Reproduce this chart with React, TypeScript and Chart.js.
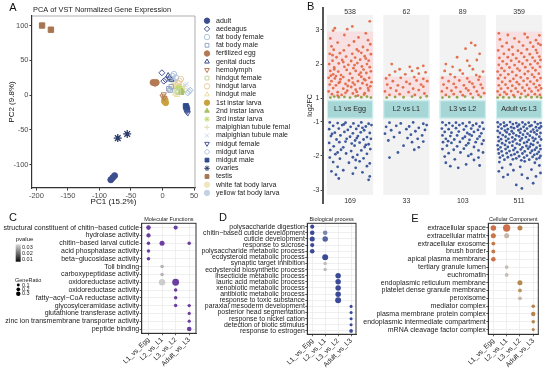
import React, { useEffect, useRef } from 'react';
import { Chart, registerables } from 'chart.js';
import { drawPoint } from 'chart.js/helpers';

Chart.register(...registerables);

const FONT = "'Liberation Sans', Arial, Helvetica, sans-serif";

/* ---------------- Panel A data ---------------- */
const PCA_GROUPS = [
  'adult', 'aedeagus', 'fat body female', 'fat body male', 'fertilized egg', 'genital ducts',
  'hemolymph', 'hindgut female', 'hindgut larva', 'hindgut male', '1st instar larva',
  '2nd instar larva', '3rd instar larva', 'malpighian tubule female', 'malpighian tubule male',
  'midgut female', 'midgut larva', 'midgut male', 'ovaries', 'testis', 'white fat body larva',
  'yellow fat body larva',
];
const PCA_POINTS: number[][][] = [
  [[-82, -122], [-79, -119], [-76, -116]],
  [[-1, 32], [5, 22], [2, 20]],
  [[16, 27], [21, 25], [18, 30]],
  [[10, 9], [14, 12], [12, 7]],
  [[-15, 18], [-12, 17], [-10, 18]],
  [[11, 25], [14, 22], [9, 28]],
  [[2, 1], [3, -4], [0, -2]],
  [[22, 6], [25, 4]],
  [[27, 20], [29, 23], [25, 17]],
  [[20, 2], [23, 0]],
  [[3, -9], [5, -11], [4, -7]],
  [[28, 4], [31, 6], [30, 3]],
  [[24, 10], [27, 12]],
  [[33, 12], [35, 9]],
  [[36, 14], [38, 16]],
  [[40, -26], [38, -24]],
  [[42, 5], [40, 3], [44, 7]],
  [[37, -16], [39, -21], [38, -18]],
  [[-71, -62], [-56, -56]],
  [[-191, 100], [-177, 94]],
  [[18, 15], [20, 13]],
  [[16, 22], [19, 19]],
];
const PCA_X_TICKS = [-200, -150, -100, -50, 0, 50];
const PCA_Y_TICKS = [-100, -50, 0, 50, 100];

const PCA_STYLE = [
  { s: 'circle', c: '#3D4E8E', f: true, r: 0, z: 3 },
  { s: 'rectRot', c: '#44528C', f: false, r: 0, z: 3 },
  { s: 'circle', c: '#AFC3DC', f: false, r: 0, z: 2.8 },
  { s: 'rect', c: '#93A6C4', f: false, r: 0, z: 3.2 },
  { s: 'circle', c: '#B27A55', f: true, r: 0, z: 3 },
  { s: 'triangle', c: '#3A4A88', f: false, r: 0, z: 3 },
  { s: 'triangle', c: '#B97B52', f: false, r: 180, z: 3 },
  { s: 'rect', c: '#C5D69C', f: false, r: 0, z: 3.2 },
  { s: 'circle', c: '#EDCB98', f: false, r: 0, z: 2.8 },
  { s: 'triangle', c: '#EEDDA0', f: false, r: 0, z: 3 },
  { s: 'circle', c: '#C9A240', f: true, r: 0, z: 3 },
  { s: 'triangle', c: '#A9C163', f: true, r: 0, z: 3 },
  { s: 'star', c: '#BFDB6E', f: true, r: 0, z: 3 },
  { s: 'cross', c: '#E0DCB4', f: false, r: 0, z: 3 },
  { s: 'crossRot', c: '#C7D6E6', f: false, r: 0, z: 3 },
  { s: 'triangle', c: '#4B5B9B', f: false, r: 180, z: 3 },
  { s: 'rectRot', c: '#A9C1E0', f: false, r: 0, z: 3 },
  { s: 'rect', c: '#2F4B8D', f: true, r: 0, z: 3.6 },
  { s: 'star', c: '#2B3B6B', f: false, r: 0, z: 4 },
  { s: 'rect', c: '#A87552', f: true, r: 0, z: 3.8 },
  { s: 'circle', c: '#EFE6BE', f: true, r: 0, z: 2.8 },
  { s: 'circle', c: '#C3D1E4', f: true, r: 0, z: 2.8 },
];

/* ---------------- Panel B data ---------------- */
const COMPARISONS = ['L1 vs Egg', 'L2 vs L1', 'L3 vs L2', 'Adult vs L3'];
const UP_COUNTS = [538, 62, 89, 359];
const DOWN_COUNTS = [169, 33, 103, 511];
const UP_SPREAD_TOP = [2.95, 1.63, 1.65, 2.95];
const FC_TICKS = [3, 2, 1, -1, -2, -3];

// pairs: jitter, log2FC
const L1_UP = [
  -0.35, 1.02, -0.28, 1.05, -0.2, 1.03, -0.1, 1.04, 0.0, 1.02, 0.1, 1.06, 0.2, 1.03, 0.3, 1.05, 0.37, 1.02,
  -0.32, 1.12, -0.15, 1.1, 0.05, 1.14, 0.25, 1.11, -0.38, 1.2, -0.22, 1.18, -0.05, 1.22, 0.12, 1.19, 0.33, 1.23,
  -0.3, 1.3, -0.12, 1.28, 0.02, 1.33, 0.18, 1.29, 0.36, 1.35, -0.36, 1.4, -0.25, 1.38, -0.08, 1.42, 0.08, 1.4,
  0.22, 1.44, 0.3, 1.39, -0.33, 1.5, -0.18, 1.48, -0.02, 1.52, 0.14, 1.5, 0.27, 1.53, 0.38, 1.47, -0.38, 1.6,
  -0.27, 1.58, -0.12, 1.62, 0.04, 1.59, 0.2, 1.63, 0.34, 1.6, -0.3, 1.7, -0.16, 1.68, 0.0, 1.72, 0.16, 1.69,
  0.29, 1.74, -0.35, 1.8, -0.21, 1.78, -0.06, 1.83, 0.1, 1.8, 0.24, 1.84, 0.37, 1.79, -0.28, 1.9, -0.1, 1.92,
  0.06, 1.88, 0.21, 1.93, 0.35, 1.91, -0.37, 2.0, -0.2, 2.02, -0.03, 1.98, 0.13, 2.03, 0.3, 2.0, -0.31, 2.1,
  -0.14, 2.12, 0.02, 2.09, 0.18, 2.13, 0.33, 2.1, -0.24, 2.2, -0.07, 2.22, 0.09, 2.19, 0.26, 2.23, -0.36, 2.3,
  -0.18, 2.32, 0.04, 2.3, 0.2, 2.33, 0.37, 2.29, -0.29, 2.42, -0.11, 2.4, 0.12, 2.43, 0.31, 2.41, -0.33, 2.52,
  -0.02, 2.55, 0.23, 2.5, 0.36, 2.58, -0.22, 2.63, 0.07, 2.66, 0.32, 2.7, -0.35, 2.75, 0.15, 2.78, -0.1, 2.85,
  0.28, 2.9, -0.3, 2.98, -0.27, 3.05, -0.05, 3.02, 0.04, 3.1, 0.35, 3.25, -0.17, 1.56, 0.1, 1.25, -0.25, 1.65,
  0.26, 1.15, -0.04, 1.36, 0.19, 1.75, -0.28, 1.85, 0.08, 1.97, -0.12, 2.06, 0.28, 2.16, -0.31, 2.26, 0.15, 2.38,
  -0.22, 1.08, 0.14, 1.08, -0.08, 1.16, 0.32, 1.3, -0.2, 1.45, 0.25, 1.56, -0.34, 1.66, 0.05, 1.46,
];
const L1_DOWN = [
  -0.36, -1.02, -0.22, -1.04, -0.08, -1.03, 0.06, -1.05, 0.2, -1.02, 0.33, -1.06, -0.3, -1.12, -0.14, -1.1,
  0.01, -1.15, 0.15, -1.12, 0.28, -1.14, 0.38, -1.1, -0.37, -1.22, -0.2, -1.2, -0.04, -1.24, 0.11, -1.21,
  0.25, -1.25, -0.27, -1.32, -0.1, -1.3, 0.05, -1.34, 0.19, -1.31, 0.35, -1.33, -0.34, -1.42, -0.17, -1.4,
  0.0, -1.44, 0.14, -1.42, 0.3, -1.45, -0.24, -1.52, -0.06, -1.5, 0.09, -1.55, 0.24, -1.52, 0.37, -1.5,
  -0.37, -1.62, -0.19, -1.6, 0.03, -1.64, 0.17, -1.61, 0.33, -1.66, -0.29, -1.72, -0.12, -1.75, 0.08, -1.7,
  0.26, -1.74, -0.35, -1.83, -0.16, -1.82, 0.02, -1.86, 0.2, -1.84, 0.36, -1.8, -0.26, -1.95, -0.07, -1.93,
  0.13, -1.97, 0.3, -1.94, -0.36, -2.05, -0.18, -2.08, 0.05, -2.04, 0.24, -2.07, -0.3, -2.18, -0.02, -2.2,
  0.17, -2.16, 0.35, -2.22, -0.22, -2.32, 0.1, -2.35, 0.3, -2.3, -0.33, -2.45, -0.12, -2.42, 0.22, -2.48,
  -0.25, -2.55, 0.05, -2.52, 0.35, -2.6, -0.2, -2.66, 0.33, -2.7, -0.11, -1.08, 0.22, -1.18, -0.32, -1.36,
  0.12, -1.48, -0.08, -1.58, 0.28, -1.68, -0.22, -1.9, 0.1, -2.12,
];
const L2_UP = [
  -0.35, 1.02, -0.2, 1.04, -0.05, 1.03, 0.1, 1.05, 0.25, 1.02, 0.36, 1.06, -0.3, 1.1, -0.12, 1.12, 0.15, 1.1,
  0.32, 1.14, -0.38, 1.2, -0.18, 1.22, 0.04, 1.18, 0.22, 1.24, -0.28, 1.3, -0.06, 1.32, 0.12, 1.28, 0.3, 1.34,
  -0.34, 1.4, -0.15, 1.38, 0.06, 1.42, 0.26, 1.4, -0.24, 1.5, 0.0, 1.48, 0.18, 1.52, 0.37, 1.5, -0.36, 1.58,
  -0.1, 1.6, 0.14, 1.62, 0.3, 1.57, -0.3, 1.68, -0.02, 1.7, 0.22, 1.72, -0.2, 1.78, 0.1, 1.8, 0.34, 1.76,
  -0.12, 1.85, 0.2, 1.88, 0.3, 1.95, -0.26, 2.0, 0.06, 1.92,
];
const L2_DOWN = [
  -0.3, -1.03, -0.1, -1.05, 0.12, -1.02, 0.3, -1.06, 0.36, -1.1, -0.36, -1.15, -0.18, -1.12, 0.05, -1.14,
  0.22, -1.18, -0.27, -1.25, 0.0, -1.22, 0.16, -1.28, 0.33, -1.24, -0.38, -1.35, -0.12, -1.32, 0.08, -1.38,
  0.28, -1.4, -0.22, -1.45, 0.02, -1.48, 0.2, -1.5, -0.32, -1.55, 0.1, -1.6, 0.3, -1.58, -0.05, -1.7,
  0.22, -1.75, -0.15, -1.9, -0.3, -2.05, 0.14, -1.82,
];
const L3_UP = [
  -0.36, 1.02, -0.24, 1.04, -0.1, 1.03, 0.04, 1.05, 0.18, 1.02, 0.32, 1.04, -0.3, 1.1, -0.16, 1.12, 0.0, 1.09,
  0.14, 1.13, 0.28, 1.1, 0.38, 1.15, -0.37, 1.2, -0.2, 1.22, -0.04, 1.19, 0.1, 1.23, 0.25, 1.2, -0.28, 1.3,
  -0.12, 1.32, 0.06, 1.29, 0.2, 1.33, 0.35, 1.3, -0.34, 1.4, -0.16, 1.42, 0.02, 1.38, 0.17, 1.43, 0.32, 1.4,
  -0.25, 1.5, -0.06, 1.52, 0.12, 1.48, 0.28, 1.54, -0.36, 1.6, -0.14, 1.62, 0.08, 1.58, 0.3, 1.63, -0.22, 1.7,
  0.0, 1.72, 0.24, 1.68, -0.32, 1.8, -0.05, 1.82, 0.18, 1.85, 0.36, 1.78, -0.18, 1.92, 0.12, 1.95, -0.3, 2.0,
  0.08, 2.1, 0.25, 2.12, -0.1, 2.2, 0.3, 2.3, 0.05, 2.45, 0.15, 2.62, 0.22, 2.55,
];
const L3_DOWN = [
  -0.36, -1.02, -0.24, -1.04, -0.12, -1.03, 0.0, -1.05, 0.12, -1.02, 0.24, -1.06, 0.35, -1.03, -0.3, -1.1,
  -0.18, -1.12, -0.06, -1.1, 0.06, -1.13, 0.18, -1.11, 0.3, -1.14, -0.37, -1.2, -0.25, -1.22, -0.12, -1.19,
  0.02, -1.23, 0.15, -1.2, 0.27, -1.24, 0.37, -1.21, -0.32, -1.3, -0.2, -1.32, -0.07, -1.29, 0.08, -1.33,
  0.2, -1.3, 0.33, -1.34, -0.36, -1.4, -0.22, -1.42, -0.1, -1.4, 0.04, -1.44, 0.16, -1.41, 0.3, -1.43,
  -0.3, -1.5, -0.15, -1.52, 0.0, -1.49, 0.12, -1.53, 0.26, -1.5, 0.37, -1.55, -0.35, -1.6, -0.2, -1.62,
  -0.05, -1.59, 0.1, -1.63, 0.23, -1.6, 0.34, -1.65, -0.28, -1.7, -0.1, -1.72, 0.06, -1.69, 0.2, -1.74,
  -0.36, -1.8, -0.16, -1.82, 0.02, -1.79, 0.28, -1.84, -0.25, -1.92, -0.04, -1.9, 0.15, -1.95, 0.36, -1.9,
  -0.32, -2.02, 0.1, -2.0, 0.28, -2.05, -0.14, -2.1, 0.2, -2.12, -0.3, -2.2, 0.06, -2.25, -0.22, -2.3,
  0.3, -2.28, -0.08, -2.35, 0.12, -1.37, -0.26, -1.57,
];
const AD_UP = [
  -0.38, 1.02, -0.28, 1.03, -0.18, 1.02, -0.08, 1.04, 0.02, 1.02, 0.12, 1.05, 0.22, 1.03, 0.32, 1.04, 0.39, 1.02,
  -0.34, 1.1, -0.22, 1.12, -0.1, 1.09, 0.04, 1.13, 0.16, 1.1, 0.28, 1.12, 0.37, 1.1,
  -0.38, 1.2, -0.26, 1.18, -0.14, 1.21, -0.02, 1.19, 0.1, 1.22, 0.22, 1.2, 0.34, 1.23,
  -0.32, 1.28, -0.2, 1.3, -0.06, 1.29, 0.06, 1.31, 0.18, 1.28, 0.3, 1.32, 0.39, 1.29,
  -0.36, 1.38, -0.24, 1.4, -0.12, 1.37, 0.0, 1.41, 0.14, 1.39, 0.26, 1.42, 0.36, 1.38,
  -0.3, 1.48, -0.16, 1.5, -0.04, 1.47, 0.08, 1.51, 0.2, 1.49, 0.32, 1.52,
  -0.37, 1.58, -0.25, 1.6, -0.1, 1.57, 0.03, 1.61, 0.15, 1.58, 0.27, 1.62, 0.38, 1.59,
  -0.33, 1.68, -0.19, 1.7, -0.05, 1.67, 0.1, 1.71, 0.23, 1.69, 0.35, 1.72,
  -0.38, 1.78, -0.26, 1.8, -0.12, 1.77, 0.01, 1.81, 0.16, 1.79, 0.29, 1.82,
  -0.31, 1.88, -0.17, 1.9, -0.03, 1.87, 0.11, 1.91, 0.24, 1.89, 0.37, 1.92,
  -0.36, 1.98, -0.22, 2.0, -0.08, 1.97, 0.06, 2.01, 0.2, 1.99, 0.33, 2.02,
  -0.29, 2.08, -0.14, 2.1, 0.0, 2.07, 0.14, 2.11, 0.28, 2.09, 0.38, 2.12,
  -0.35, 2.18, -0.2, 2.2, -0.05, 2.17, 0.09, 2.21, 0.24, 2.19, 0.36, 2.22,
  -0.27, 2.3, -0.11, 2.28, 0.04, 2.32, 0.19, 2.29, 0.32, 2.33,
  -0.37, 2.4, -0.18, 2.42, -0.02, 2.39, 0.14, 2.43, 0.3, 2.41,
  -0.3, 2.52, -0.12, 2.5, 0.07, 2.54, 0.25, 2.51, 0.38, 2.56,
  -0.22, 2.62, 0.0, 2.65, 0.2, 2.63, 0.34, 2.6,
  -0.34, 2.72, -0.08, 2.75, 0.15, 2.78, 0.3, 2.7,
  -0.2, 2.85, 0.1, 2.88, -0.36, 2.9, 0.36, 2.84,
];
const AD_DOWN = [
  -0.38, -1.02, -0.27, -1.03, -0.16, -1.01, -0.05, -1.04, 0.06, -1.02, 0.17, -1.03, 0.28, -1.01, 0.38, -1.04,
  -0.33, -1.08, -0.22, -1.1, -0.11, -1.07, 0.0, -1.09, 0.11, -1.08, 0.22, -1.11, 0.33, -1.07,
  -0.37, -1.15, -0.26, -1.13, -0.14, -1.16, -0.03, -1.14, 0.08, -1.15, 0.19, -1.13, 0.3, -1.16, 0.39, -1.14,
  -0.31, -1.2, -0.2, -1.22, -0.09, -1.19, 0.03, -1.21, 0.14, -1.2, 0.25, -1.23, 0.36, -1.19,
  -0.38, -1.27, -0.25, -1.26, -0.13, -1.28, -0.01, -1.25, 0.1, -1.27, 0.21, -1.29, 0.32, -1.26,
  -0.34, -1.33, -0.22, -1.31, -0.1, -1.34, 0.02, -1.32, 0.15, -1.35, 0.27, -1.31, 0.38, -1.33,
  -0.29, -1.39, -0.17, -1.37, -0.05, -1.4, 0.07, -1.38, 0.19, -1.41, 0.31, -1.37,
  -0.37, -1.45, -0.24, -1.44, -0.12, -1.46, 0.0, -1.43, 0.12, -1.45, 0.24, -1.47, 0.36, -1.44,
  -0.32, -1.51, -0.19, -1.5, -0.07, -1.52, 0.05, -1.49, 0.17, -1.53, 0.29, -1.5, 0.39, -1.52,
  -0.36, -1.57, -0.23, -1.56, -0.11, -1.58, 0.02, -1.55, 0.14, -1.59, 0.26, -1.56,
  -0.3, -1.63, -0.17, -1.61, -0.04, -1.64, 0.09, -1.62, 0.21, -1.65, 0.33, -1.61,
  -0.38, -1.69, -0.25, -1.68, -0.12, -1.7, 0.01, -1.67, 0.13, -1.71, 0.25, -1.68, 0.37, -1.7,
  -0.33, -1.75, -0.2, -1.74, -0.07, -1.77, 0.06, -1.75, 0.19, -1.73, 0.31, -1.76,
  -0.37, -1.81, -0.24, -1.8, -0.1, -1.83, 0.03, -1.81, 0.16, -1.79, 0.28, -1.82, 0.38, -1.8,
  -0.31, -1.87, -0.17, -1.86, -0.03, -1.89, 0.1, -1.87, 0.23, -1.85, 0.35, -1.88,
  -0.36, -1.93, -0.22, -1.92, -0.08, -1.95, 0.06, -1.93, 0.2, -1.91, 0.32, -1.94,
  -0.29, -1.99, -0.14, -1.98, 0.0, -2.01, 0.14, -1.99, 0.27, -1.97, 0.38, -2.0,
  -0.34, -2.05, -0.2, -2.04, -0.05, -2.07, 0.09, -2.05, 0.24, -2.03, 0.36, -2.06,
  -0.26, -2.11, -0.11, -2.1, 0.04, -2.13, 0.18, -2.11, 0.31, -2.09,
  -0.35, -2.18, 0.1, -2.16, 0.28, -2.2, -0.15, -2.25, 0.36, -2.28, -0.3, -2.35, 0.02, -2.32, -0.1, -2.42,
  0.22, -2.4, -0.36, -2.45, 0.38, -2.5, -0.2, -2.55, 0.05, -2.55, 0.3, -2.6, -0.28, -2.62, 0.15, -2.65,
  -0.05, -2.85, 0.05, -2.95, 0.25, -2.8,
];
const B_UP = [L1_UP, L2_UP, L3_UP, AD_UP];
const B_DOWN = [L1_DOWN, L2_DOWN, L3_DOWN, AD_DOWN];

/* ---------------- Panels C/D/E data ---------------- */
const GO_COLUMNS = ['L1_vs_Egg', 'L2_vs_L1', 'L3_vs_L2', 'Adult_vs_L3'];
const MF_TERMS = [
  'structural constituent of chitin\u2212based cuticle', 'hydrolase activity', 'chitin\u2212based larval cuticle',
  'acid phosphatase activity', 'beta\u2212glucosidase activity', 'Toll binding', 'carboxypeptidase activity',
  'oxidoreductase activity', 'oxidoreductase activity', 'fatty\u2212acyl\u2212CoA reductase activity',
  'glycosylceramidase activity', 'glutathione transferase activity',
  'zinc ion transmembrane transporter activity', 'peptide binding',
];
// [row, column, GeneRatio, pvalue]
const MF_DOTS = [
  [1, 1, 0.2, 0.004], [1, 3, 0.15, 0.005], [2, 1, 0.17, 0.005], [3, 1, 0.08, 0.006], [3, 2, 0.25, 0.004],
  [3, 4, 0.08, 0.006], [4, 1, 0.08, 0.006], [5, 1, 0.08, 0.006], [6, 2, 0.08, 0.03], [7, 2, 0.08, 0.03],
  [8, 2, 0.4, 0.04], [8, 3, 0.45, 0.003], [9, 3, 0.08, 0.006], [10, 3, 0.08, 0.006], [11, 3, 0.08, 0.006],
  [11, 4, 0.07, 0.006], [12, 4, 0.05, 0.007], [13, 4, 0.05, 0.007], [14, 4, 0.2, 0.005],
];
const BP_TERMS = [
  'polysaccharide digestion', 'chitin\u2212based cuticle development', 'cuticle development',
  'response to sucrose', 'polysaccharide metabolic process', 'ecdysteroid metabolic process',
  'synaptic target inhibition', 'ecdysteroid biosynthetic process', 'insecticide metabolic process',
  'lauric acid metabolic process', 'xenobiotic metabolic process', 'antibiotic metabolic process',
  'response to toxic substance', 'paraxial mesoderm development', 'posterior head segmentation',
  'response to nickel cation', 'detection of biotic stimulus', 'response to estrogen',
];
const BP_DOTS = [
  [1, 1, 0.15, 0.003], [2, 1, 0.2, 0.003], [3, 1, 0.25, 0.003], [4, 1, 0.15, 0.003], [5, 1, 0.2, 0.003],
  [2, 2, 0.2, 0.02], [3, 2, 0.3, 0.012], [6, 2, 0.35, 0.004], [7, 2, 0.08, 0.04], [8, 2, 0.08, 0.04],
  [9, 3, 0.3, 0.003], [10, 3, 0.3, 0.003], [11, 3, 0.3, 0.003], [12, 3, 0.3, 0.003], [13, 3, 0.35, 0.003],
  [14, 4, 0.03, 0.004], [15, 4, 0.03, 0.004], [16, 4, 0.03, 0.004], [17, 4, 0.03, 0.004], [18, 4, 0.1, 0.004],
];
const CC_TERMS = [
  'extracellular space', 'extracellular matrix', 'extracellular exosome', 'brush border',
  'apical plasma membrane', 'tertiary granule lumen', 'euchromatin', 'endoplasmic reticulum membrane',
  'platelet dense granule membrane', 'peroxisome', 'mediator complex', 'plasma membrane protein complex',
  'endoplasmic intermediate compartment', 'mRNA cleavage factor complex',
];
const CC_DOTS = [
  [1, 1, 0.3, 0.002], [1, 2, 0.5, 0.001], [1, 3, 0.25, 0.008], [2, 1, 0.25, 0.003], [2, 2, 0.25, 0.03],
  [3, 1, 0.12, 0.004], [4, 1, 0.12, 0.004], [5, 1, 0.2, 0.002], [6, 2, 0.1, 0.035], [7, 2, 0.1, 0.035],
  [8, 3, 0.25, 0.01], [9, 3, 0.12, 0.015], [10, 3, 0.12, 0.03], [11, 4, 0.08, 0.008], [12, 4, 0.18, 0.008],
  [13, 4, 0.08, 0.008], [14, 4, 0.03, 0.008],
];
const PVALUE_LEGEND = [0.03, 0.02, 0.01];
const RATIO_LEGEND = [0.1, 0.2, 0.3];

/* ---------------- helpers ---------------- */
const hexToRgb = (h: string) => {
  const n = parseInt(h.slice(1), 16);
  return [(n >> 16) & 255, (n >> 8) & 255, n & 255];
};
const stopColor = (stops: [number, string][], p: number) => {
  if (p <= stops[0][0]) return stops[0][1];
  for (let i = 1; i < stops.length; i++) {
    if (p <= stops[i][0]) {
      const [p0, c0] = stops[i - 1];
      const [p1, c1] = stops[i];
      const t = (p - p0) / (p1 - p0);
      const a = hexToRgb(c0);
      const b = hexToRgb(c1);
      return `rgb(${a.map((v, k) => Math.round(v + (b[k] - v) * t)).join(',')})`;
    }
  }
  return stops[stops.length - 1][1];
};
const dotRadius = (ratio: number) => 1.4 + 4.5 * ratio;

const txt = (ctx: CanvasRenderingContext2D, s: string, x: number, y: number, size: number,
  align: CanvasTextAlign = 'left', color = '#222') => {
  ctx.save();
  ctx.font = `${size}px ${FONT}`;
  ctx.fillStyle = color;
  ctx.textAlign = align;
  ctx.textBaseline = 'middle';
  ctx.fillText(s, x, y);
  ctx.restore();
};

const fixedTicks = (vals: number[]) => (scale: any) => {
  scale.ticks = vals.map((v) => ({ value: v }));
};

/* ---------------- Panel A config ---------------- */
const makeA = () => ({
  type: 'scatter',
  data: {
    datasets: PCA_GROUPS.map((g, i) => {
      const st = PCA_STYLE[i];
      return {
        label: g,
        data: PCA_POINTS[i].map(([x, y]) => ({ x, y })),
        pointStyle: st.s,
        pointRotation: st.r,
        pointRadius: st.z,
        pointBackgroundColor: st.f ? st.c : 'rgba(0,0,0,0)',
        pointBorderColor: st.c,
        pointBorderWidth: st.s === 'star' ? 1.3 : 1,
      };
    }),
  },
  options: {
    animation: false, responsive: false, devicePixelRatio: 1, events: [],
    layout: { padding: { left: 0, top: 16, right: 97, bottom: 0 } },
    plugins: { legend: { display: false }, tooltip: { enabled: false } },
    scales: {
      x: {
        type: 'linear', min: -207, max: 51.5,
        afterBuildTicks: fixedTicks(PCA_X_TICKS),
        afterFit: (s: any) => { s.height = 22; },
        grid: { drawOnChartArea: false, tickLength: 2.5, color: '#333' },
        border: { color: '#333', width: 1.2 },
        ticks: { font: { family: FONT, size: 7.5 }, color: '#4D4D4D', padding: 1, maxRotation: 0, autoSkip: false },
        title: { display: true, text: 'PC1 (15.2%)', font: { family: FONT, size: 8 }, color: '#111', padding: { top: 0, bottom: 3 } },
      },
      y: {
        type: 'linear', min: -133.8, max: 113.7,
        afterBuildTicks: fixedTicks(PCA_Y_TICKS),
        afterFit: (s: any) => { s.width = 32; },
        grid: { drawOnChartArea: false, tickLength: 2.5, color: '#333' },
        border: { color: '#333', width: 1.2 },
        ticks: { font: { family: FONT, size: 7.5 }, color: '#4D4D4D', padding: 1, autoSkip: false },
        title: { display: true, text: 'PC2 (9.8%)', font: { family: FONT, size: 8 }, color: '#111', padding: { top: 7, bottom: 0 } },
      },
    },
  },
  plugins: [{
    id: 'panelA',
    afterDraw(chart: any) {
      const { ctx, chartArea: a } = chart;
      ctx.save();
      ctx.strokeStyle = '#9A9A9A';
      ctx.lineWidth = 0.8;
      ctx.beginPath();
      ctx.moveTo(a.left, a.top); ctx.lineTo(a.right, a.top); ctx.lineTo(a.right, a.bottom);
      ctx.stroke();
      ctx.restore();
      txt(ctx, 'A', 13, 8, 11, 'center', '#111');
      txt(ctx, 'PCA of VST Normalized Gene Expression', 33, 10, 7.4, 'left', '#222');
      PCA_GROUPS.forEach((g, i) => {
        const st = PCA_STYLE[i];
        const y = 20.7 + i * 8.2;
        ctx.save();
        ctx.fillStyle = st.f ? st.c : 'rgba(0,0,0,0)';
        ctx.strokeStyle = st.c;
        ctx.lineWidth = 1;
        drawPoint(ctx, { pointStyle: st.s, rotation: st.r, radius: 2.7, borderWidth: 1 }, 207, y);
        ctx.restore();
        txt(ctx, g, 216, y, 7, 'left', '#222');
      });
    },
  }],
});

/* ---------------- Panel B config ---------------- */
const GAP = 0.658;
const tB = (v: number) => (v > 0 ? v - GAP : v + GAP);
const facetPoints = (sets: number[][]) => {
  const out: any[] = [];
  sets.forEach((arr, f) => {
    for (let i = 0; i < arr.length; i += 2) out.push({ x: f + 1 + arr[i], y: tB(arr[i + 1]), v: arr[i + 1] });
  });
  return out;
};

const makeB = () => ({
  type: 'scatter',
  data: {
    datasets: [
      {
        label: 'up', data: facetPoints(B_UP), pointRadius: 1.4, pointBorderWidth: 0,
        pointBackgroundColor: (c: any) => (c.raw && c.raw.v < 1.07 ? '#8FA64C' : '#E2714F'),
      },
      {
        label: 'down', data: facetPoints(B_DOWN), pointRadius: 1.4, pointBorderWidth: 0,
        pointBackgroundColor: '#3E5A9C',
      },
    ],
  },
  options: {
    animation: false, responsive: false, devicePixelRatio: 1, events: [],
    layout: { padding: { left: 0, top: 8, right: 5, bottom: 7 } },
    plugins: { legend: { display: false }, tooltip: { enabled: false } },
    scales: {
      x: { type: 'linear', min: 0.52, max: 4.46, display: false },
      y: {
        type: 'linear', min: -2.719, max: 2.982,
        afterBuildTicks: fixedTicks(FC_TICKS.map(tB)),
        afterFit: (s: any) => { s.width = 33; },
        grid: { drawOnChartArea: false, tickLength: 2.5, color: '#555' },
        border: { color: '#555', width: 2 },
        ticks: {
          font: { family: FONT, size: 7 }, color: '#333', padding: 1, autoSkip: false,
          callback: (v: number) => String(Math.round(v > 0 ? v + GAP : v - GAP)),
        },
        title: { display: true, text: 'log2FC', font: { family: FONT, size: 7 }, color: '#222', padding: { top: 15.5, bottom: 0 } },
      },
    },
  },
  plugins: [{
    id: 'panelB',
    beforeDatasetsDraw(chart: any) {
      const { ctx } = chart;
      const xs = chart.scales.x;
      const ys = chart.scales.y;
      ctx.save();
      COMPARISONS.forEach((name, i) => {
        const x0 = xs.getPixelForValue(i + 1 - 0.41);
        const x1 = xs.getPixelForValue(i + 1 + 0.41);
        const yTop = ys.getPixelForValue(tB(3.436));
        const yBot = ys.getPixelForValue(tB(-3.14));
        ctx.fillStyle = '#F2F2F2';
        ctx.fillRect(x0, yTop, x1 - x0, yBot - yTop);
        const pTop = ys.getPixelForValue(tB(UP_SPREAD_TOP[i]));
        const pBot = ys.getPixelForValue(tB(1.05));
        ctx.fillStyle = 'rgba(255,200,205,0.45)';
        ctx.fillRect(x0, pTop, x1 - x0, pBot - pTop);
        const bTop = ys.getPixelForValue(0.285);
        const bBot = ys.getPixelForValue(-0.25);
        ctx.fillStyle = '#A6D6D6';
        ctx.fillRect(x0, bTop, x1 - x0, bBot - bTop);
        ctx.strokeStyle = '#D2F4F4';
        ctx.lineWidth = 1;
        ctx.strokeRect(x0 + 0.5, bTop + 0.5, x1 - x0 - 1, bBot - bTop - 1);
        txt(ctx, name, (x0 + x1) / 2, (bTop + bBot) / 2, 7.2, 'center', '#2A2A2A');
        txt(ctx, String(UP_COUNTS[i]), (x0 + x1) / 2, ys.getPixelForValue(2.865), 7, 'center', '#333');
        txt(ctx, String(DOWN_COUNTS[i]), (x0 + x1) / 2, ys.getPixelForValue(-2.66), 7, 'center', '#333');
      });
      ctx.restore();
    },
    afterDraw(chart: any) {
      txt(chart.ctx, 'B', 20.7, 7, 11, 'center', '#111');
    },
  }],
});

/* ---------------- Panels C/D/E config ---------------- */
type DotGeo = {
  yw: number; padR: number; xh: number; top: number; xmin: number; xmax: number;
  ymin: number; ymax: number; font: number;
};
const makeDot = (terms: string[], dots: number[][], stops: [number, string][], geo: DotGeo,
  extra: (chart: any) => void) => ({
  type: 'scatter',
  data: {
    datasets: [{
      label: 'go',
      data: dots.map(([row, col, ratio, p]) => ({ x: col, y: row, ratio, p })),
      pointRadius: (c: any) => dotRadius(c.raw ? c.raw.ratio : 0.1),
      pointBackgroundColor: (c: any) => stopColor(stops, c.raw ? c.raw.p : 0),
      pointBorderWidth: 0,
    }],
  },
  options: {
    animation: false, responsive: false, devicePixelRatio: 1, events: [],
    layout: { padding: { left: 0, top: geo.top, right: geo.padR, bottom: 0 } },
    plugins: { legend: { display: false }, tooltip: { enabled: false } },
    scales: {
      x: {
        type: 'linear', min: geo.xmin, max: geo.xmax,
        afterBuildTicks: fixedTicks([1, 2, 3, 4]),
        afterFit: (s: any) => { s.height = geo.xh; },
        grid: { color: '#EBEBEB', lineWidth: 0.8, tickColor: '#333', tickLength: 2 },
        border: { color: '#333', width: 1 },
        ticks: {
          font: { family: FONT, size: 6.8 }, color: '#222', padding: 0.5, autoSkip: false,
          minRotation: 45, maxRotation: 45, callback: (v: number) => GO_COLUMNS[v - 1],
        },
      },
      y: {
        type: 'linear', min: geo.ymin, max: geo.ymax, reverse: true,
        afterBuildTicks: fixedTicks(terms.map((_, i) => i + 1)),
        afterFit: (s: any) => { s.width = geo.yw; },
        grid: { color: '#EBEBEB', lineWidth: 0.8, tickColor: '#333', tickLength: 2 },
        border: { color: '#333', width: 1 },
        ticks: {
          font: { family: FONT, size: geo.font }, color: '#222', padding: 0.5, autoSkip: false,
          callback: (v: number) => terms[v - 1],
        },
      },
    },
  },
  plugins: [{
    id: 'dotFrame',
    afterDraw(chart: any) {
      const { ctx, chartArea: a } = chart;
      ctx.save();
      ctx.strokeStyle = '#333';
      ctx.lineWidth = 1;
      ctx.strokeRect(a.left, a.top, a.right - a.left, a.bottom - a.top);
      ctx.restore();
      extra(chart);
    },
  }],
});

const MF_STOPS: [number, string][] = [[0, '#6B3FA0'], [0.008, '#6B3FA0'], [0.025, '#A6A6A6'], [0.04, '#CDCDCD']];
const BP_STOPS: [number, string][] = [[0, '#3B4A96'], [0.005, '#3B4A96'], [0.012, '#5563A0'], [0.02, '#7A86B0'], [0.04, '#BDBDBD']];
const CC_STOPS: [number, string][] = [[0, '#D2704C'], [0.002, '#CC7048'], [0.004, '#C47A48'], [0.01, '#B48A50'], [0.03, '#C4B6A8'], [0.04, '#C8C0B8']];

const makeC = () => makeDot(MF_TERMS, MF_DOTS, MF_STOPS,
  { yw: 141.7, padR: 4, xh: 37.7, top: 18.3, xmin: 0.5, xmax: 4.5, ymin: 0.45, ymax: 14.55, font: 7 },
  (chart) => {
    const { ctx, chartArea: a } = chart;
    txt(ctx, 'C', 13, 13, 11, 'center', '#111');
    txt(ctx, 'Molecular Functions', (a.left + a.right) / 2, 14, 5.5, 'center', '#222');
    // pvalue legend
    txt(ctx, 'pvalue', 15.7, 34, 6, 'left', '#222');
    const g = ctx.createLinearGradient(0, 39.3, 0, 56.7);
    g.addColorStop(0, '#D9D9D9');
    g.addColorStop(1, '#0A0A0A');
    ctx.save();
    ctx.fillStyle = g;
    ctx.fillRect(15.7, 39.3, 5, 17.4);
    ctx.restore();
    PVALUE_LEGEND.forEach((p, i) => txt(ctx, p.toFixed(2), 22, 42 + i * 6.3, 5.5, 'left', '#222'));
    txt(ctx, 'GeneRatio', 15, 75, 5.5, 'left', '#222');
    RATIO_LEGEND.forEach((r, i) => {
      const y = 80 + i * 4.35;
      ctx.save();
      ctx.fillStyle = '#000';
      ctx.beginPath();
      ctx.arc(18.3, y, dotRadius(r) * 0.8, 0, Math.PI * 2);
      ctx.fill();
      ctx.restore();
      txt(ctx, String(r), 22, y, 5.5, 'left', '#222');
    });
  });
const makeD = () => makeDot(BP_TERMS, BP_DOTS, BP_STOPS,
  { yw: 107.3, padR: 2.7, xh: 36.7, top: 18.3, xmin: 0.62, xmax: 4.38, ymin: 0.45, ymax: 18.55, font: 6.9 },
  (chart) => {
    const { ctx, chartArea: a } = chart;
    txt(ctx, 'D', 23, 13, 11, 'center', '#111');
    txt(ctx, 'Biological process', (a.left + a.right) / 2, 14, 5.5, 'center', '#222');
  });
const makeE = () => makeDot(CC_TERMS, CC_DOTS, CC_STOPS,
  { yw: 128.3, padR: 11.7, xh: 36.7, top: 18.3, xmin: 0.62, xmax: 4.38, ymin: 0.4, ymax: 14.6, font: 7 },
  (chart) => {
    const { ctx, chartArea: a } = chart;
    txt(ctx, 'E', 55, 14, 11, 'center', '#111');
    txt(ctx, 'Cellular Component', (a.left + a.right) / 2, 14, 5.5, 'center', '#222');
  });

/* ---------------- components ---------------- */
function ChartBox({ x, y, w, h, make, bg }: { x: number; y: number; w: number; h: number; make: () => any; bg?: string }) {
  const ref = useRef<HTMLCanvasElement>(null);
  useEffect(() => {
    const chart = new Chart(ref.current as HTMLCanvasElement, make());
    return () => chart.destroy();
  }, []);
  return (
    <canvas
      ref={ref}
      width={w}
      height={h}
      style={{ position: 'absolute', left: x, top: y, width: w, height: h, background: bg || 'transparent' }}
    />
  );
}

export default function App() {
  return (
    <div style={{ position: 'absolute', left: 0, top: 0, width: 550, height: 371, background: '#fff', overflow: 'hidden' }}>
      <ChartBox x={0} y={0} w={292} h={210} make={makeA} />
      <ChartBox x={290} y={0} w={260} h={210} make={makeB} bg="#fff" />
      <ChartBox x={0} y={205} w={200} h={166} make={makeC} />
      <ChartBox x={200} y={205} w={160} h={166} make={makeD} />
      <ChartBox x={360} y={205} w={190} h={166} make={makeE} />
    </div>
  );
}
